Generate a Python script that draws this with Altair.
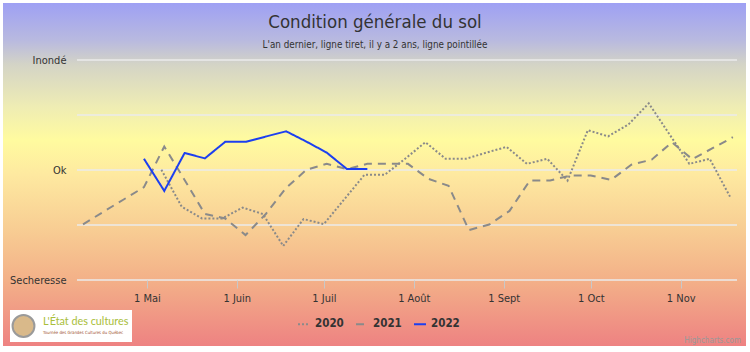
import altair as alt
import pandas as pd

# ---------------- data ----------------
title_text = "Condition générale du sol"
subtitle_text = "L'an dernier, ligne tiret, il y a 2 ans, ligne pointillée"
credit_text = "Highcharts.com"
logo_title = "L'État des cultures"
logo_sub = "Tournée des Grandes Cultures du Québec"

years = ["2020", "2021", "2022"]

dates_2020 = ["05-06", "05-13", "05-20", "05-27", "06-03", "06-10", "06-17", "06-24",
              "07-01", "07-08", "07-15", "07-22", "07-29", "08-05", "08-12", "08-19",
              "08-26", "09-02", "09-09", "09-16", "09-23", "09-30", "10-07", "10-14",
              "10-21", "10-28", "11-04", "11-11", "11-18"]
values_2020 = [50.1, 33.3, 28.0, 28.0, 32.9, 30.0, 15.5, 27.7, 25.4, 36.6, 47.8, 47.8,
               55.1, 62.6, 55.1, 55.1, 57.9, 60.5, 52.8, 55.1, 45.2, 68.1, 65.3, 70.7,
               80.3, 66.5, 52.8, 55.1, 37.9]

dates_2021 = ["04-09", "04-16", "04-23", "04-30", "05-07", "05-14", "05-21", "05-28",
              "06-04", "06-11", "06-18", "06-25", "07-02", "07-09", "07-16", "07-23",
              "07-30", "08-06", "08-13", "08-20", "08-27", "09-03", "09-10", "09-17",
              "09-24", "10-01", "10-08", "10-15", "10-22", "10-29", "11-05", "11-12",
              "11-19"]
values_2021 = [25.3, 31.0, 36.6, 42.2, 60.7, 45.5, 30.0, 28.0, 20.4, 30.0, 41.9, 50.1,
               52.8, 50.4, 52.8, 52.8, 52.8, 46.0, 42.8, 22.7, 25.2, 31.4, 45.2, 45.2,
               47.5, 47.5, 45.5, 52.4, 54.7, 62.6, 54.9, 59.9, 64.9]

dates_2022 = ["04-30", "05-07", "05-14", "05-21", "05-28", "06-04", "06-11", "06-18",
              "06-25", "07-02", "07-09", "07-16"]
values_2022 = [55.1, 40.5, 57.7, 55.3, 62.8, 62.8, 65.2, 67.6, 62.9, 57.9, 50.4, 50.4]

y_levels = [0, 25, 50, 75, 100]
month_ticks = [5, 6, 7, 8, 9, 10, 11]
month_names = ["Janv", "Févr", "Mars", "Avr", "Mai", "Juin", "Juil", "Août",
               "Sept", "Oct", "Nov", "Déc"]

# ---------------- build table ----------------
rows = []
for yr, ds, vs in [("2020", dates_2020, values_2020),
                   ("2021", dates_2021, values_2021),
                   ("2022", dates_2022, values_2022)]:
    for d, v in zip(ds, vs):
        rows.append({"date": f"2022-{d}T00:00:00", "value": v, "year": yr})
df = pd.DataFrame(rows)
grid_df = pd.DataFrame({"level": y_levels})
one = pd.DataFrame({"k": [0]})

FONT = "DejaVu Sans Condensed, sans-serif"
W, H = 660, 220

x_scale = alt.Scale(domain=[alt.DateTime(year=2022, month=4, date=6, hours=22),
                            alt.DateTime(year=2022, month=11, date=20, hours=10)])
y_scale = alt.Scale(domain=[0, 100], nice=False)

month_js = "[" + ",".join(f"'{m}'" for m in month_names) + "]"

bg = alt.Chart(one).mark_rect(
    fill={"gradient": "linear", "x1": 0, "y1": 0, "x2": 0, "y2": 1,
          "stops": [
              {"offset": 0.0, "color": "#9ea0f4"},
              {"offset": 0.11, "color": "#b9badf"},
              {"offset": 0.18, "color": "#d4d4c6"},
              {"offset": 0.30, "color": "#eeecb4"},
              {"offset": 0.40, "color": "#fffb9f"},
              {"offset": 0.50, "color": "#fee9a0"},
              {"offset": 0.65, "color": "#f8cf94"},
              {"offset": 0.81, "color": "#f3b088"},
              {"offset": 1.0, "color": "#ee8282"}]}
).encode(x=alt.value(-74), x2=alt.value(669), y=alt.value(-57), y2=alt.value(286))

grid = alt.Chart(grid_df).mark_rule(color="#ebebeb", strokeWidth=1.5).encode(
    y=alt.Y("level:Q", scale=y_scale,
            axis=alt.Axis(values=y_levels, title=None, grid=False, domain=False,
                          ticks=False, tickSize=0, labelPadding=11, zindex=1,
                          labelFont=FONT, labelFontSize=11, labelColor="#333333",
                          labelExpr="datum.value == 100 ? 'Inondé' : datum.value == 50 ? 'Ok' : datum.value == 0 ? 'Secheresse' : ''")),
    x=alt.value(0), x2=alt.value(W)
)

legend = alt.Legend(title=None, orient="none", legendX=220, legendY=257,
                    direction="horizontal", symbolType="stroke", symbolSize=144,
                    symbolStrokeWidth=2, labelFont=FONT, labelFontSize=11.5,
                    labelFontWeight="bold", labelColor="#333333",
                    columnPadding=8, labelOffset=4, padding=0)

lines = alt.Chart(df).mark_line(strokeWidth=2).encode(
    x=alt.X("date:T", scale=x_scale,
            axis=alt.Axis(values=[alt.DateTime(year=2022, month=m, date=1) for m in month_ticks],
                          title=None, grid=False, domain=False, ticks=True, tickSize=8,
                          tickColor="#c8c8c8", labelPadding=4, labelAngle=0, zindex=1,
                          labelFont=FONT, labelFontSize=11, labelColor="#333333",
                          labelExpr="'1 ' + " + month_js + "[month(datum.value)]")),
    y=alt.Y("value:Q", scale=y_scale),
    color=alt.Color("year:N", scale=alt.Scale(domain=years,
                                               range=["#8a8a8a", "#8a8a8a", "#1c3ff0"]),
                    legend=legend),
    strokeDash=alt.StrokeDash("year:N", scale=alt.Scale(domain=years,
                                                         range=[[2, 2], [8, 6], [1, 0]]),
                              legend=legend),
)

title = alt.Chart(one).mark_text(font=FONT, fontSize=18.5, color="#333333",
                                 align="center", baseline="middle").encode(
    x=alt.value(298), y=alt.value(-38), text=alt.value(title_text))
subtitle = alt.Chart(one).mark_text(font=FONT, fontSize=9.8, color="#333333",
                                    align="center", baseline="middle").encode(
    x=alt.value(298), y=alt.value(-15), text=alt.value(subtitle_text))
credit = alt.Chart(one).mark_text(font=FONT, fontSize=8, color="#999999",
                                  align="right", baseline="alphabetic").encode(
    x=alt.value(664), y=alt.value(283), text=alt.value(credit_text))

logo_box = alt.Chart(one).mark_rect(fill="white").encode(
    x=alt.value(-67), x2=alt.value(55), y=alt.value(250), y2=alt.value(282))
logo_circle = alt.Chart(one).mark_point(shape="circle", size=480, filled=True,
                                        fill="#d9b98a", stroke="#9a9a9a",
                                        strokeWidth=2, opacity=1).encode(
    x=alt.value(-53.5), y=alt.value(266))
logo_text = alt.Chart(one).mark_text(font="Lato, sans-serif", fontSize=10.8,
                                     color="#a9be3a", align="left",
                                     baseline="alphabetic").encode(
    x=alt.value(-34), y=alt.value(265), text=alt.value(logo_title))
logo_text2 = alt.Chart(one).mark_text(font=FONT, fontSize=4.3, color="#a0522d",
                                      align="left", baseline="alphabetic").encode(
    x=alt.value(-34), y=alt.value(274), text=alt.value(logo_sub))

chart = alt.layer(bg, grid, lines, title, subtitle, credit,
                  logo_box, logo_circle, logo_text, logo_text2).properties(
    width=W, height=H, padding=3,
    autosize=alt.AutoSizeParams(type="pad"),
).configure_view(stroke=None).configure(background="white")

chart.save("out.html", embed_options={"renderer": "svg", "actions": False})
